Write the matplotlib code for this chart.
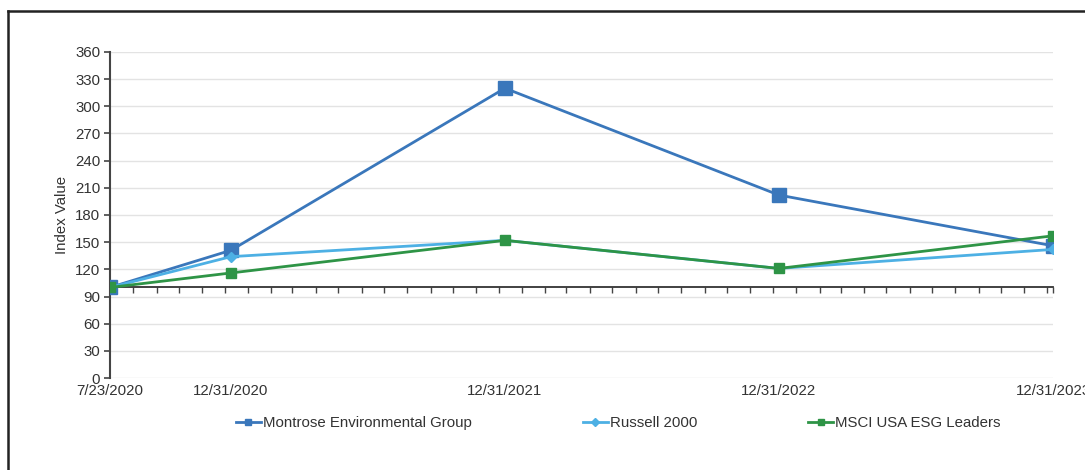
import matplotlib
matplotlib.use("Agg")
import matplotlib.pyplot as plt
import matplotlib.dates as mdates
from matplotlib.lines import Line2D
import datetime as dt

plt.rcParams['font.family'] = ['Liberation Sans', 'DejaVu Sans']

dates = ["2020-07-23", "2020-12-31", "2021-12-31", "2022-12-31", "2023-12-31"]
date_labels = ["7/23/2020", "12/31/2020", "12/31/2021", "12/31/2022", "12/31/2023"]
montrose = [100, 141, 320, 202, 146]
russell = [100, 134, 152, 121, 142]
msci = [100, 116, 152, 121, 157]
series_names = ["Montrose Environmental Group", "Russell 2000", "MSCI USA ESG Leaders"]
yticks = list(range(0, 361, 30))

x = [mdates.date2num(dt.date.fromisoformat(d)) for d in dates]

# monthly minor ticks on the 23rd starting from the first date
start = dt.date.fromisoformat(dates[0])
end = dt.date.fromisoformat(dates[-1])
month_ticks = []
y_, m_ = start.year, start.month
while True:
    d = dt.date(y_, m_, 23)
    if d > end:
        break
    month_ticks.append(mdates.date2num(d))
    m_ += 1
    if m_ > 12:
        m_ = 1
        y_ += 1
month_ticks.append(x[-1])

FS = 10.8

fig = plt.figure(figsize=(10.85, 4.7), dpi=100)
ax = fig.add_axes([110/1085, 92/470, (1053-110)/1085, (378-52)/470])

c_mont = "#3a77bb"
c_russ = "#4db0e4"
c_msci = "#2e9446"

ax.plot(x, montrose, color=c_mont, lw=2.0, marker='s', ms=9.5, zorder=3)
ax.plot(x, russell, color=c_russ, lw=2.0, marker='D', ms=5, zorder=4)
ax.plot(x, msci, color=c_msci, lw=2.0, marker='s', ms=7, zorder=5)

ax.set_xlim(x[0], x[-1])
ax.set_ylim(0, 360)
ax.set_yticks(yticks)
ax.set_yticklabels([str(v) for v in yticks])
ax.grid(axis='y', color='#e3e3e3', lw=1.0)
ax.set_axisbelow(True)

ax.set_xticks(x)
ax.set_xticklabels(date_labels)
ax.tick_params(axis='x', length=0, pad=4, labelsize=FS, colors='#333333')
ax.tick_params(axis='y', length=4, width=1.2, color='#444444', labelsize=FS,
               labelcolor='#333333', pad=3)

for s in ['top', 'right', 'bottom']:
    ax.spines[s].set_visible(False)
ax.spines['left'].set_color('#444444')
ax.spines['left'].set_linewidth(1.5)

sec = ax.secondary_xaxis(100/360)
sec.set_xticks(month_ticks)
sec.tick_params(axis='x', labelbottom=False, length=4, width=1.0,
                color='#444444', direction='out')
sec.spines['bottom'].set_color('#333333')
sec.spines['bottom'].set_linewidth(1.3)

ax.set_ylabel("Index Value", fontsize=FS, color='#333333', labelpad=4)

handles = [
    Line2D([], [], color=c_mont, lw=2.0, marker='s', ms=5),
    Line2D([], [], color=c_russ, lw=2.0, marker='D', ms=4),
    Line2D([], [], color=c_msci, lw=2.0, marker='s', ms=5),
]
leg = fig.legend(handles, series_names, loc='center', bbox_to_anchor=(618/1085, 1 - 423/470),
                 ncol=3, frameon=False, fontsize=FS, handlelength=1.7,
                 handletextpad=0.1, columnspacing=7.4)
for t in leg.get_texts():
    t.set_color('#333333')

# frame lines (left and top borders)
fig.add_artist(Line2D([8/1085, 8/1085], [0, 1 - 11/470], transform=fig.transFigure,
                      color='#222222', lw=1.8))
fig.add_artist(Line2D([8/1085, 1], [1 - 11/470, 1 - 11/470], transform=fig.transFigure,
                      color='#222222', lw=1.8))

fig.savefig("out.png", dpi=100)
